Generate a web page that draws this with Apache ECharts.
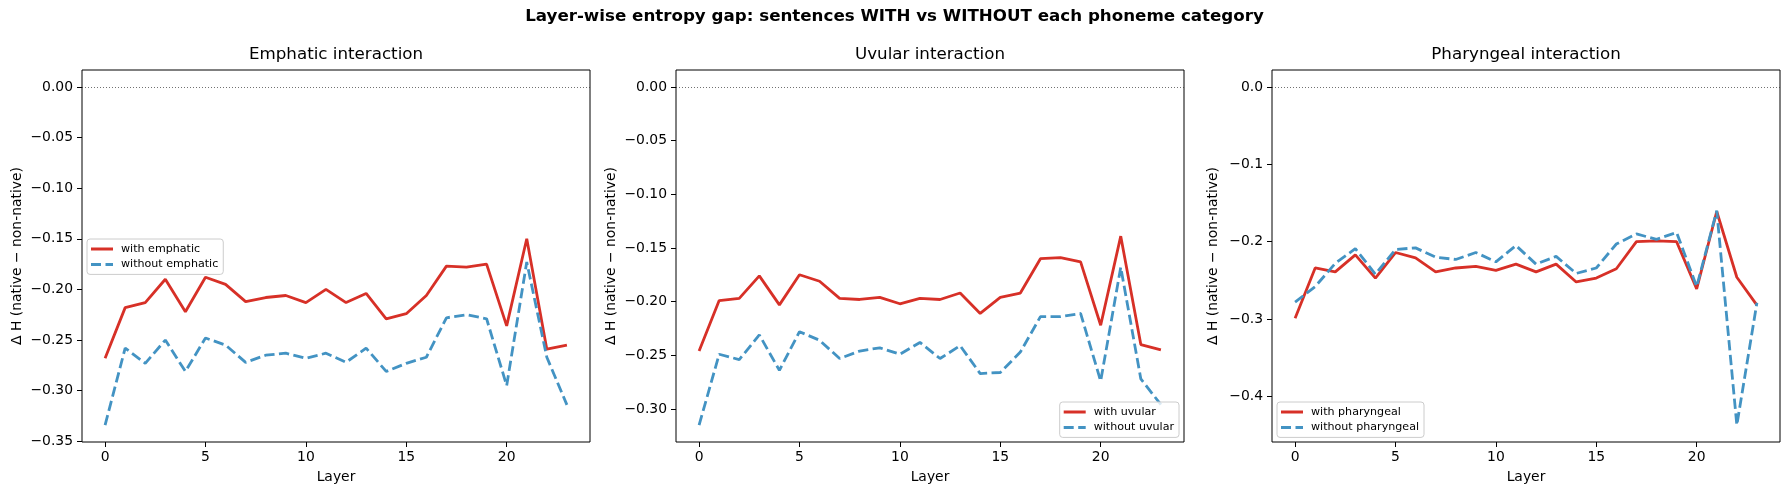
<!DOCTYPE html>
<html><head><meta charset="utf-8">
<script src="https://cdn.jsdelivr.net/npm/echarts@6/dist/echarts.min.js"></script>
<style>html,body{margin:0;padding:0;background:#fff}#c{width:1789px;height:495px}</style>
</head><body><div id="c"></div>
<script>
// ---- data ----
const layers = [0,1,2,3,4,5,6,7,8,9,10,11,12,13,14,15,16,17,18,19,20,21,22,23];
const xTicks = [0,5,10,15,20];

const emphWith    = [-0.268,-0.218,-0.213,-0.190,-0.222,-0.188,-0.195,-0.212,-0.208,-0.206,-0.213,-0.200,-0.213,-0.204,-0.229,-0.224,-0.206,-0.177,-0.178,-0.175,-0.236,-0.150,-0.259,-0.255];
const emphWithout = [-0.334,-0.258,-0.273,-0.250,-0.281,-0.248,-0.255,-0.272,-0.265,-0.263,-0.268,-0.263,-0.272,-0.258,-0.281,-0.273,-0.267,-0.228,-0.225,-0.229,-0.295,-0.173,-0.267,-0.314];

const uvWith      = [-0.246,-0.199,-0.197,-0.176,-0.203,-0.175,-0.181,-0.197,-0.198,-0.196,-0.202,-0.197,-0.198,-0.192,-0.211,-0.196,-0.192,-0.160,-0.159,-0.163,-0.222,-0.139,-0.240,-0.245];
const uvWithout   = [-0.315,-0.249,-0.254,-0.231,-0.264,-0.228,-0.236,-0.253,-0.246,-0.243,-0.249,-0.238,-0.253,-0.241,-0.267,-0.266,-0.247,-0.214,-0.214,-0.211,-0.274,-0.168,-0.272,-0.296];

const pharWith    = [-0.299,-0.234,-0.239,-0.217,-0.247,-0.214,-0.221,-0.239,-0.234,-0.232,-0.237,-0.229,-0.239,-0.229,-0.252,-0.247,-0.235,-0.200,-0.199,-0.200,-0.261,-0.161,-0.246,-0.282];
const pharWithout = [-0.278,-0.258,-0.228,-0.209,-0.242,-0.210,-0.208,-0.220,-0.223,-0.214,-0.226,-0.205,-0.229,-0.219,-0.241,-0.234,-0.203,-0.190,-0.197,-0.188,-0.258,-0.160,-0.437,-0.279];

const yTicksEmph = [0,-0.05,-0.10,-0.15,-0.20,-0.25,-0.30,-0.35];
const yTicksUv   = [0,-0.05,-0.10,-0.15,-0.20,-0.25,-0.30];
const yTicksPhar = [0,-0.1,-0.2,-0.3,-0.4];

const suptitle = 'Layer-wise entropy gap: sentences WITH vs WITHOUT each phoneme category';
const panelTitles = ['Emphatic interaction','Uvular interaction','Pharyngeal interaction'];
const withNames = ['with emphatic','with uvular','with pharyngeal'];
const withoutNames = ['without emphatic','without uvular','without pharyngeal'];
const yLabel = '\u0394 H (native \u2212 non-native)';
const xLabel = 'Layer';

// ---- chart ----
const FONT = 'DejaVu Sans';
const RED = '#d73027', BLUE = '#4393c3';
const withSets = [emphWith, uvWith, pharWith];
const withoutSets = [emphWithout, uvWithout, pharWithout];
const yTickSets = [yTicksEmph, yTicksUv, yTicksPhar];
const decimals = [2, 2, 1];
const gridLeft = [82, 676, 1272];
const GW = 508, GT = 70, GH = 372;
const nameGaps = [58, 58, 52];
const ICON_SOLID = 'path://M0,0H22V3H0Z';
const ICON_DASH = 'path://M0,0H10V3H0Z M14.5,0H22V3H14.5Z';

function pad(vals) {
  const mn = Math.min.apply(null, vals), mx = Math.max.apply(null, vals);
  const r = mx - mn;
  return [mn - 0.05 * r, mx + 0.05 * r];
}
const xr = pad(layers);

const grids = [], xAxes = [], yAxes = [], series = [], titles = [], legends = [];
titles.push({text: suptitle, left: 894.5, top: 8, textAlign: 'center', padding: 0,
  textStyle: {fontFamily: FONT, fontSize: 16.7, fontWeight: 'bold', color: '#000'}});

const legendPos = [
  {left: 87, top: 239},
  {right: 610, top: 402},
  {left: 1277, top: 402}
];

for (let i = 0; i < 3; i++) {
  grids.push({left: gridLeft[i], top: GT, width: GW, height: GH, show: true,
    borderColor: '#000', borderWidth: 1, backgroundColor: 'transparent', outerBoundsMode: 'none'});
  titles.push({text: panelTitles[i], left: gridLeft[i] + GW / 2, top: 46, textAlign: 'center', padding: 0,
    textStyle: {fontFamily: FONT, fontSize: 16.7, fontWeight: 'normal', color: '#000'}});
  const yr = pad(withSets[i].concat(withoutSets[i], [0]));
  const d = decimals[i];
  xAxes.push({type: 'value', gridIndex: i, min: xr[0], max: xr[1], position: 'bottom',
    axisLine: {show: false, onZero: false},
    axisTick: {show: true, length: 5, customValues: xTicks, lineStyle: {color: '#000', width: 1}},
    axisLabel: {customValues: xTicks, margin: 8, fontFamily: FONT, fontSize: 13.9, color: '#000'},
    splitLine: {show: false},
    name: xLabel, nameLocation: 'middle', nameGap: 28,
    nameTextStyle: {fontFamily: FONT, fontSize: 13.9, color: '#000'}});
  yAxes.push({type: 'value', gridIndex: i, min: yr[0], max: yr[1], position: 'left',
    axisLine: {show: false, onZero: false},
    axisTick: {show: true, length: 5, customValues: yTickSets[i], lineStyle: {color: '#000', width: 1}},
    axisLabel: {customValues: yTickSets[i], margin: 9, fontFamily: FONT, fontSize: 13.9, color: '#000',
      formatter: function (v) { return (v < -1e-9 ? '\u2212' : '') + Math.abs(v).toFixed(d); }},
    splitLine: {show: false},
    name: yLabel, nameLocation: 'middle', nameGap: nameGaps[i], nameRotate: 90,
    nameTextStyle: {fontFamily: FONT, fontSize: 13.9, color: '#000'}});
  series.push({type: 'line', name: withNames[i], xAxisIndex: i, yAxisIndex: i,
    data: layers.map((l, k) => [l, withSets[i][k]]),
    symbol: 'none', lineStyle: {color: RED, width: 2.8}, itemStyle: {color: RED},
    markLine: {silent: true, symbol: 'none', label: {show: false},
      lineStyle: {color: '#333', type: [1, 2], width: 0.7}, data: [{yAxis: 0}]}});
  series.push({type: 'line', name: withoutNames[i], xAxisIndex: i, yAxisIndex: i,
    data: layers.map((l, k) => [l, withoutSets[i][k]]),
    symbol: 'none', lineStyle: {color: BLUE, width: 2.8, type: [10.3, 4.4]}, itemStyle: {color: BLUE}});
  legends.push(Object.assign({
    data: [{name: withNames[i], icon: ICON_SOLID}, {name: withoutNames[i], icon: ICON_DASH}],
    orient: 'vertical',
    itemWidth: 22, itemHeight: 3, itemGap: 3.4, padding: [4, 5, 4, 4],
    backgroundColor: 'rgba(255,255,255,0.8)', borderColor: '#ccc', borderWidth: 1, borderRadius: 3,
    itemStyle: {borderWidth: 0},
    textStyle: {fontFamily: FONT, fontSize: 11.1, lineHeight: 12, color: '#000', padding: [0, 0, 0, 3]},
    selectedMode: false
  }, legendPos[i]));
}

const chart = echarts.init(document.getElementById('c'), null, {renderer: 'canvas'});
chart.setOption({
  animation: false, backgroundColor: '#fff',
  title: titles, grid: grids, xAxis: xAxes, yAxis: yAxes, legend: legends, series: series
});
</script></body></html>
